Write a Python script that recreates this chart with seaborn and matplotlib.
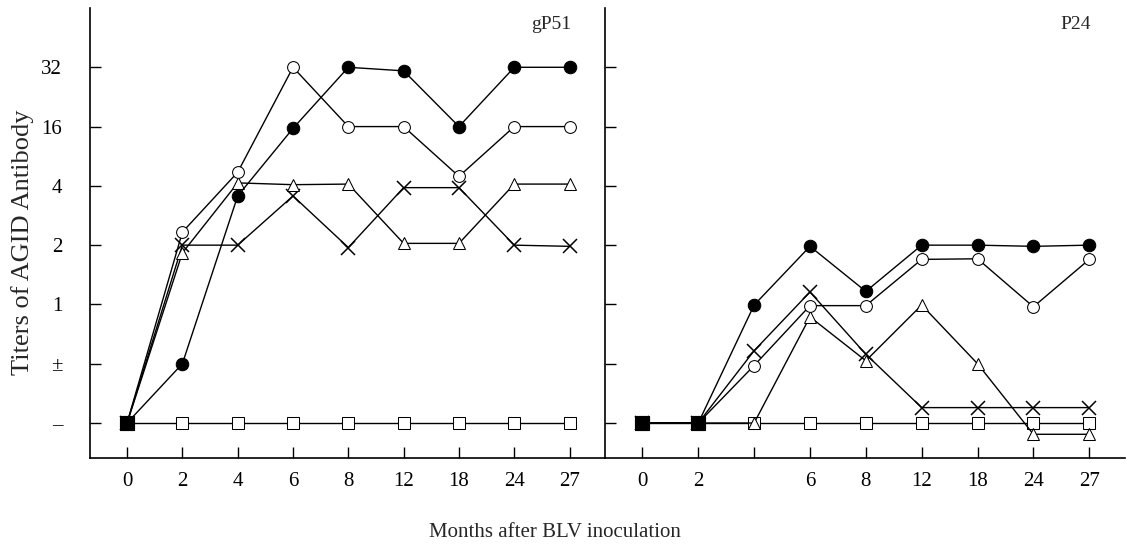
import numpy as np
import pandas as pd
import matplotlib
matplotlib.use("Agg")
import matplotlib.pyplot as plt
import seaborn as sns

# ---- data (levels on the ordinal titer scale: 0='–', 1='±', 2='1', 3='2', 4='4', 5='16', 6='32')
months = ["0", "2", "4", "6", "8", "12", "18", "24", "27"]
months_p24 = ["0", "2", "", "6", "8", "12", "18", "24", "27"]
titer_labels = ["–", "±", "1", "2", "4", "16", "32"]

gp51_filled = [0, 1, 3.83, 4.97, 6, 5.94, 5, 6, 6]
gp51_open = [0, 3.22, 4.23, 6, 5, 5, 4.16, 5, 5]
gp51_triangle = [0, 2.87, 4.05, 4.02, 4.03, 3.03, 3.03, 4.03, 4.03]
gp51_cross = [0, 3.0, 3.0, 3.83, 2.96, 3.97, 3.97, 3.0, 2.98]
gp51_square = [0, 0, 0, 0, 0, 0, 0, 0, 0]

p24_filled = [0, 0, 1.99, 2.98, 2.22, 3.0, 3.0, 2.98, 3.0]
p24_open = [0, 0, 0.97, 1.98, 1.98, 2.76, 2.77, 1.96, 2.76]
p24_cross = [0, 0, 1.22, 2.21, 1.16, 0.26, 0.26, 0.26, 0.26]
p24_triangle = [0, 0, 0, 1.79, 1.05, 1.99, 1.0, -0.19, -0.19]
p24_square = [0, 0, 0, 0, 0, 0, 0, 0, 0]

sns.set_style("ticks")
plt.rcParams["font.family"] = ["Liberation Serif", "DejaVu Serif"]

fig = plt.figure(figsize=(11.28, 5.44), dpi=100)
ax1 = fig.add_axes([90 / 1128, 86 / 544, 515 / 1128, 450 / 544])
ax2 = fig.add_axes([605 / 1128, 86 / 544, 520 / 1128, 450 / 544])

styles = {
    "square": dict(marker="s", markersize=9, markerfacecolor="white"),
    "cross": dict(marker="x", markersize=10, markeredgewidth=1.1),
    "triangle": dict(marker="^", markersize=9, markerfacecolor="white"),
    "open": dict(marker="o", markersize=8.5, markerfacecolor="white"),
    "filled": dict(marker="o", markersize=9, markerfacecolor="black"),
}

panels = [
    (ax1, {"square": gp51_square, "cross": gp51_cross, "triangle": gp51_triangle,
           "open": gp51_open, "filled": gp51_filled}, months, "gP51"),
    (ax2, {"square": p24_square, "cross": p24_cross, "triangle": p24_triangle,
           "open": p24_open, "filled": p24_filled}, months_p24, "P24"),
]

for ax, series, ticklabels, title in panels:
    pos = np.arange(len(months))
    for z, (name, vals) in enumerate(series.items()):
        df = pd.DataFrame({"pos": pos, "level": vals})
        sns.lineplot(data=df, x="pos", y="level", ax=ax, color="black",
                     linewidth=1.0, markeredgecolor="black", zorder=3 + z,
                     **styles[name])
    # points where every series coincides print as a solid black square
    arr = np.array(list(series.values()))
    mask = np.all(arr == arr[0], axis=0)
    ov = pd.DataFrame({"pos": pos[mask], "level": arr[0][mask]})
    sns.scatterplot(data=ov, x="pos", y="level", ax=ax, marker="s", s=110,
                    color="black", edgecolor="black", zorder=20)

    ax.set_xlim(-0.67, 8.64)
    ax.set_ylim(-0.59, 7.0)
    ax.set_xticks(pos)
    ax.set_xticklabels(ticklabels, fontsize=15)
    ax.set_yticks(range(len(titer_labels)))
    ax.set_xlabel("")
    ax.set_ylabel("")
    ax.tick_params(axis="both", direction="in", length=8, width=1.0, colors="black")
    ax.tick_params(axis="x", pad=10)
    ax.tick_params(axis="y", pad=20)
    for s in ["top", "right"]:
        ax.spines[s].set_visible(False)
    for s in ["left", "bottom"]:
        ax.spines[s].set_linewidth(1.2)
        ax.spines[s].set_color("black")
    ax.text(pos[-1] + 0.03, 0.982, title, transform=ax.get_xaxis_transform(),
            ha="right", va="top", fontsize=14)

ax1.set_yticklabels(titer_labels, fontsize=15)
ax2.set_yticklabels([])
ax1.set_ylabel("Titers of AGID Antibody", fontsize=19)
ax1.yaxis.set_label_coords(-0.108, 0.48)
fig.text(555 / 1128, 7 / 544, "Months after BLV inoculation",
         ha="center", va="baseline", fontsize=15)

fig.savefig("out.png", dpi=100, facecolor="white")
